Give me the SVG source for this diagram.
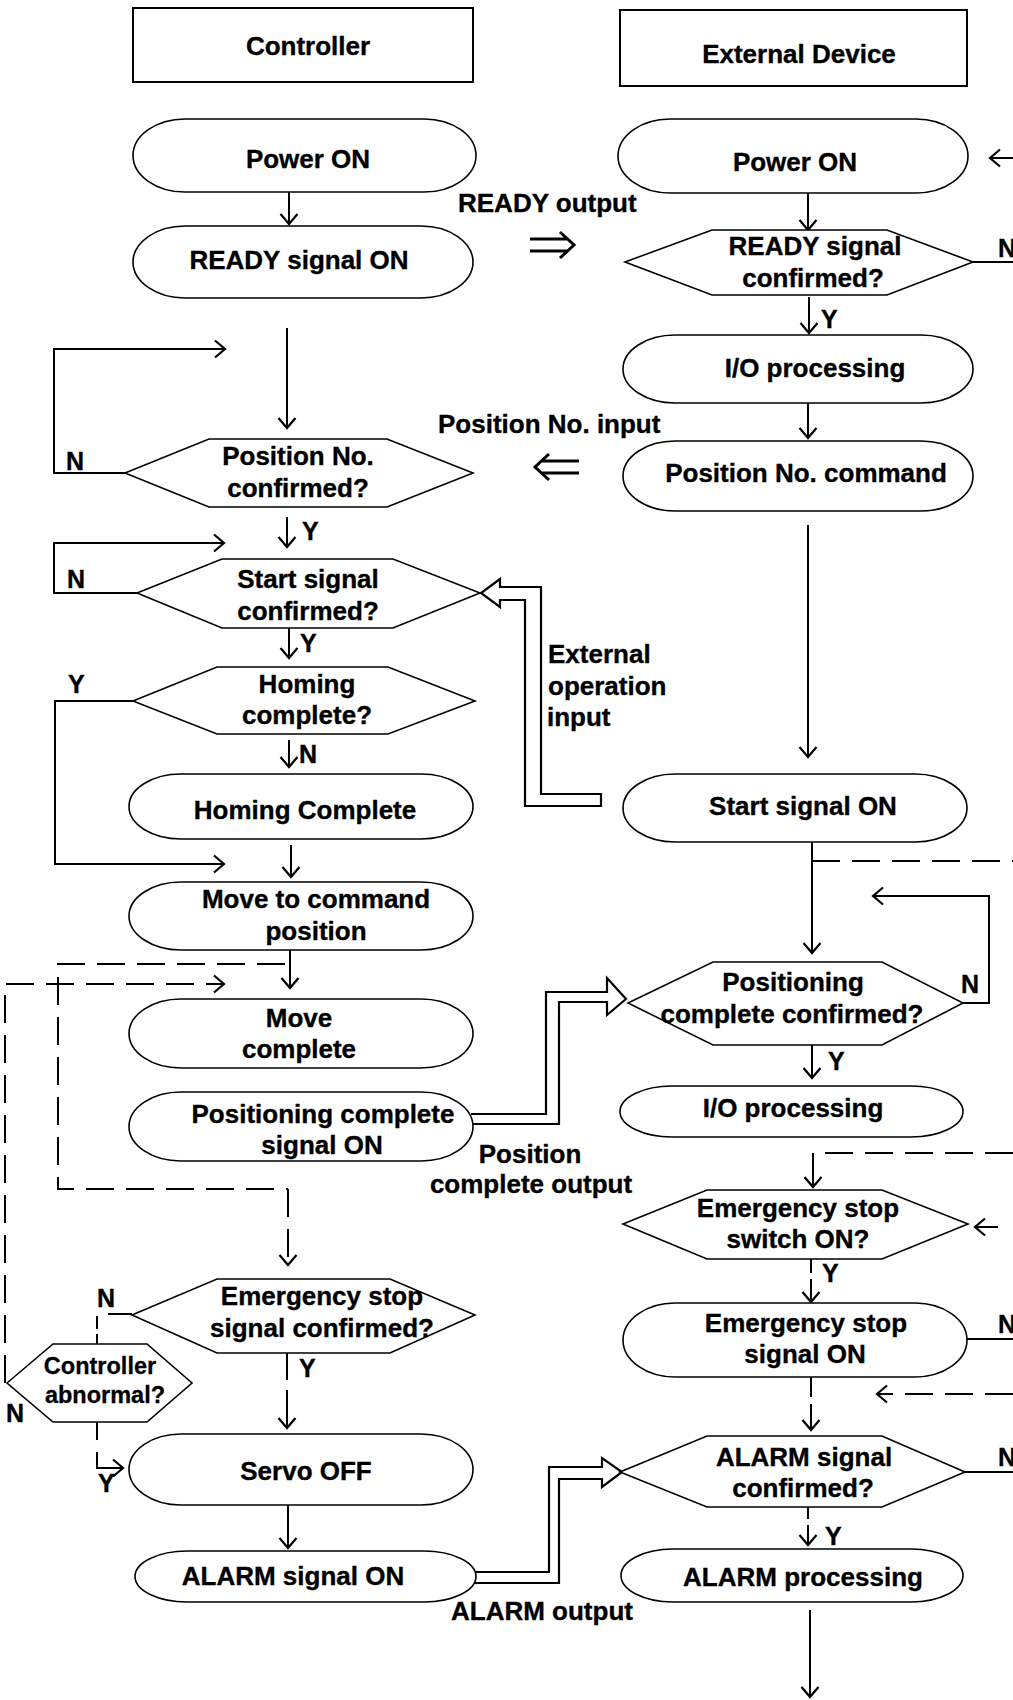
<svg xmlns="http://www.w3.org/2000/svg" width="1013" height="1700" viewBox="0 0 1013 1700">
  <style>
    .box { fill: #fff; stroke: #000; stroke-width: 2; }
    .term { fill: #fff; stroke: #000; stroke-width: 1.6; }
    .dec { fill: #fff; stroke: #000; stroke-width: 1.6; }
    .t { font-family: "Liberation Sans", Arial, sans-serif; font-weight: bold; font-size: 26px; fill: #000; stroke: #000; stroke-width: 0.35; text-anchor: middle; }
    .ts { font-family: "Liberation Sans", Arial, sans-serif; font-weight: bold; font-size: 23.5px; fill: #000; stroke: #000; stroke-width: 0.3; text-anchor: middle; }
    .lbl { font-family: "Liberation Sans", Arial, sans-serif; font-weight: bold; font-size: 26px; fill: #000; stroke: #000; stroke-width: 0.35; }
    .yn { font-family: "Liberation Sans", Arial, sans-serif; font-weight: bold; font-size: 25px; fill: #000; stroke: #000; stroke-width: 0.35; }
    .ln { fill: none; stroke: #000; stroke-width: 2; }
    .arr { fill: none; stroke: #000; stroke-width: 2; marker-end: url(#ah); }
    .dash { fill: none; stroke: #000; stroke-width: 2; stroke-dasharray: 28 12; }
    .darr { fill: none; stroke: #000; stroke-width: 2; stroke-dasharray: 28 12; marker-end: url(#ah); }
    .band { fill: #fff; stroke: #000; stroke-width: 2.2; stroke-linejoin: miter; }
    .dbl { fill: none; stroke: #000; stroke-width: 3; }
  </style>
  <defs>
    <marker id="ah" viewBox="-12 -10 14 20" refX="0" refY="0" markerWidth="14" markerHeight="20" markerUnits="userSpaceOnUse" orient="auto">
      <path d="M-10,-8.5 L0,0 L-10,8.5" fill="none" stroke="#000" stroke-width="2.2"/>
    </marker>
  </defs>

  <rect width="1013" height="1700" fill="#fff"/>

  <!-- connectors -->
  <g id="connectors">
    <!-- controller column -->
    <path class="arr" d="M289 192 V224"/>
    <path class="arr" d="M287 328 V428"/>
    <path class="arr" d="M125 473 H54 V349 H225"/>
    <path class="arr" d="M287 517 V547"/>
    <path class="arr" d="M137 593 H54 V543 H224"/>
    <path class="arr" d="M289 628 V658"/>
    <path class="arr" d="M133 701 H55 V864 H224"/>
    <path class="arr" d="M289 740 V767"/>
    <path class="arr" d="M291 845 V877"/>
    <path class="arr" d="M290 950 V988"/>
    <path class="dash" d="M285 964 H58 V1189 H288"/>
    <path class="darr" d="M288 1189 V1265"/>
    <path class="darr" d="M5 1383 V984 H224"/>
    <path class="ln" d="M132 1314 H108"/>
    <path class="ln" d="M97 1316 V1344" stroke-dasharray="13 5"/>
    <path class="arr" d="M97 1422 V1468 H123" stroke-dasharray="18 12 200"/>
    <path class="arr" d="M287 1353 V1428" stroke-dasharray="27 10 200"/>
    <path class="arr" d="M288 1505 V1548"/>

    <!-- external device column -->
    <path class="arr" d="M1013 158 H990"/>
    <path class="arr" d="M808 193 V230"/>
    <path class="ln" d="M973 262 H1013"/>
    <path class="arr" d="M809 297 V333"/>
    <path class="arr" d="M808 403 V438"/>
    <path class="arr" d="M808 525 V757"/>
    <path class="arr" d="M812 842 V953"/>
    <path class="dash" d="M812 861 H1013"/>
    <path class="arr" d="M963 1003 H989 V896 H873"/>
    <path class="arr" d="M812 1045 V1078"/>
    <path class="dash" d="M1013 1153 H813"/>
    <path class="arr" d="M813 1153 V1187"/>
    <path class="arr" d="M998 1227 H975"/>
    <path class="arr" d="M811 1259 V1302" stroke-dasharray="14 6 200"/>
    <path class="ln" d="M967 1339 H1013"/>
    <path class="arr" d="M811 1377 V1430" stroke-dasharray="20 7 200"/>
    <path class="darr" d="M1013 1394 H877"/>
    <path class="ln" d="M965 1472 H1013"/>
    <path class="arr" d="M808 1507 V1545" stroke-dasharray="12 6 200"/>
    <path class="arr" d="M810 1610 V1697"/>

    <!-- signals exchanged between the two sides -->
    <path class="dbl" d="M530 239 H567 M530 251 H567 M560 232 L574 245 L560 258"/>
    <path class="dbl" d="M579 461 H542 M579 473 H542 M549 454 L535 467 L549 480"/>
    <path class="band" d="M601 794 H541 V587 H500 V579 L481 593 L500 607 V600 H525 V806 H601 Z"/>
    <path class="band" d="M471 1114 H546 V992 H607 V978 L626 999 L607 1015 V1002 H559 V1124 H471" fill="none"/>
    <path class="band" d="M474 1572 H549 V1467 H602 V1458 L622 1472 L602 1487 V1479 H559 V1583 H474" fill="none"/>
  </g>

  <!-- connector labels -->
  <g id="labels">
    <text class="lbl" x="458" y="212">READY output</text>
    <text class="lbl" x="438" y="433">Position No. input</text>
    <text class="lbl" x="548" y="663">External</text>
    <text class="lbl" x="548" y="695">operation</text>
    <text class="lbl" x="547" y="726">input</text>
    <text class="t" x="530" y="1163">Position</text>
    <text class="t" x="531" y="1193">complete output</text>
    <text class="lbl" x="451" y="1620">ALARM output</text>

    <text class="yn" x="66" y="470">N</text>
    <text class="yn" x="302" y="540">Y</text>
    <text class="yn" x="67" y="588">N</text>
    <text class="yn" x="300" y="652">Y</text>
    <text class="yn" x="68" y="693">Y</text>
    <text class="yn" x="299" y="763">N</text>
    <text class="yn" x="97" y="1307">N</text>
    <text class="yn" x="6" y="1422">N</text>
    <text class="yn" x="299" y="1377">Y</text>
    <text class="yn" x="98" y="1492">Y</text>

    <text class="yn" x="998" y="257">N</text>
    <text class="yn" x="821" y="328">Y</text>
    <text class="yn" x="961" y="993">N</text>
    <text class="yn" x="828" y="1070">Y</text>
    <text class="yn" x="822" y="1282">Y</text>
    <text class="yn" x="998" y="1333">N</text>
    <text class="yn" x="998" y="1466">N</text>
    <text class="yn" x="825" y="1545">Y</text>
  </g>

  <!-- column headers -->
  <g id="hdr-controller">
    <rect class="box" x="133" y="8" width="340" height="74"/>
    <text class="t" x="308" y="55">Controller</text>
  </g>
  <g id="hdr-external">
    <rect class="box" x="620" y="10" width="347" height="76"/>
    <text class="t" x="799" y="63">External Device</text>
  </g>

  <!-- controller nodes -->
  <g id="c-power">
    <rect class="term" x="133" y="119" width="343" height="73" rx="52" ry="36.5"/>
    <text class="t" x="308" y="168">Power ON</text>
  </g>
  <g id="c-ready">
    <rect class="term" x="133" y="226" width="340" height="72" rx="52" ry="36"/>
    <text class="t" x="299" y="269">READY signal ON</text>
  </g>
  <g id="c-posno-q">
    <polygon class="dec" points="125,473 209,439 387,439 473,473 387,507 209,507"/>
    <text class="t" x="298" y="465">Position No.</text>
    <text class="t" x="298" y="497">confirmed?</text>
  </g>
  <g id="c-start-q">
    <polygon class="dec" points="137,593 222,559 393,559 480,593 393,628 222,628"/>
    <text class="t" x="308" y="588">Start signal</text>
    <text class="t" x="308" y="620">confirmed?</text>
  </g>
  <g id="c-homing-q">
    <polygon class="dec" points="133,701 217,667 388,667 475,701 388,734 217,734"/>
    <text class="t" x="307" y="693">Homing</text>
    <text class="t" x="307" y="724">complete?</text>
  </g>
  <g id="c-homing">
    <rect class="term" x="129" y="774" width="344" height="65" rx="52" ry="32.5"/>
    <text class="t" x="305" y="819">Homing Complete</text>
  </g>
  <g id="c-move">
    <rect class="term" x="129" y="882" width="344" height="68" rx="52" ry="34"/>
    <text class="t" x="316" y="908">Move to command</text>
    <text class="t" x="316" y="940">position</text>
  </g>
  <g id="c-move-done">
    <rect class="term" x="129" y="999" width="344" height="69" rx="52" ry="34.5"/>
    <text class="t" x="299" y="1027">Move</text>
    <text class="t" x="299" y="1058">complete</text>
  </g>
  <g id="c-pos-done">
    <rect class="term" x="129" y="1092" width="344" height="69" rx="52" ry="34.5"/>
    <text class="t" x="323" y="1123">Positioning complete</text>
    <text class="t" x="322" y="1154">signal ON</text>
  </g>
  <g id="c-estop-q">
    <polygon class="dec" points="132,1315 217,1279 390,1279 475,1315 390,1353 217,1353"/>
    <text class="t" x="322" y="1305">Emergency stop</text>
    <text class="t" x="322" y="1337">signal confirmed?</text>
  </g>
  <g id="c-abnormal-q">
    <polygon class="dec" points="7,1383 53,1344 147,1344 192,1383 147,1422 53,1422"/>
    <text class="ts" x="100" y="1374">Controller</text>
    <text class="ts" x="105" y="1403">abnormal?</text>
  </g>
  <g id="c-servo-off">
    <rect class="term" x="129" y="1434" width="344" height="71" rx="52" ry="35.5"/>
    <text class="t" x="306" y="1480">Servo OFF</text>
  </g>
  <g id="c-alarm">
    <rect class="term" x="135" y="1551" width="341" height="51" rx="52" ry="25.5"/>
    <text class="t" x="293" y="1585">ALARM signal ON</text>
  </g>

  <!-- external device nodes -->
  <g id="e-power">
    <rect class="term" x="618" y="119" width="350" height="74" rx="52" ry="37"/>
    <text class="t" x="795" y="171">Power ON</text>
  </g>
  <g id="e-ready-q">
    <polygon class="dec" points="625,262 712,230 887,230 973,262 887,295 712,295"/>
    <text class="t" x="815" y="255">READY signal</text>
    <text class="t" x="813" y="287">confirmed?</text>
  </g>
  <g id="e-io-1">
    <rect class="term" x="623" y="335" width="350" height="68" rx="52" ry="34"/>
    <text class="t" x="815" y="377">I/O processing</text>
  </g>
  <g id="e-posno">
    <rect class="term" x="623" y="441" width="350" height="70" rx="52" ry="35"/>
    <text class="t" x="806" y="482">Position No. command</text>
  </g>
  <g id="e-start">
    <rect class="term" x="623" y="774" width="344" height="68" rx="52" ry="34"/>
    <text class="t" x="803" y="815">Start signal ON</text>
  </g>
  <g id="e-pos-q">
    <polygon class="dec" points="628,1003 713,962 882,962 963,1003 882,1045 713,1045"/>
    <text class="t" x="793" y="991">Positioning</text>
    <text class="t" x="792" y="1023">complete confirmed?</text>
  </g>
  <g id="e-io-2">
    <rect class="term" x="620" y="1086" width="343" height="51" rx="52" ry="25.5"/>
    <text class="t" x="793" y="1117">I/O processing</text>
  </g>
  <g id="e-estop-q">
    <polygon class="dec" points="623,1224 707,1190 882,1190 968,1224 882,1259 707,1259"/>
    <text class="t" x="798" y="1217">Emergency stop</text>
    <text class="t" x="798" y="1248">switch ON?</text>
  </g>
  <g id="e-estop">
    <rect class="term" x="623" y="1303" width="344" height="74" rx="52" ry="37"/>
    <text class="t" x="806" y="1332">Emergency stop</text>
    <text class="t" x="805" y="1363">signal ON</text>
  </g>
  <g id="e-alarm-q">
    <polygon class="dec" points="620,1472 707,1436 882,1436 965,1472 882,1507 707,1507"/>
    <text class="t" x="804" y="1466">ALARM signal</text>
    <text class="t" x="803" y="1497">confirmed?</text>
  </g>
  <g id="e-alarm-proc">
    <rect class="term" x="621" y="1549" width="342" height="53" rx="52" ry="26.5"/>
    <text class="t" x="803" y="1586">ALARM processing</text>
  </g>
</svg>
